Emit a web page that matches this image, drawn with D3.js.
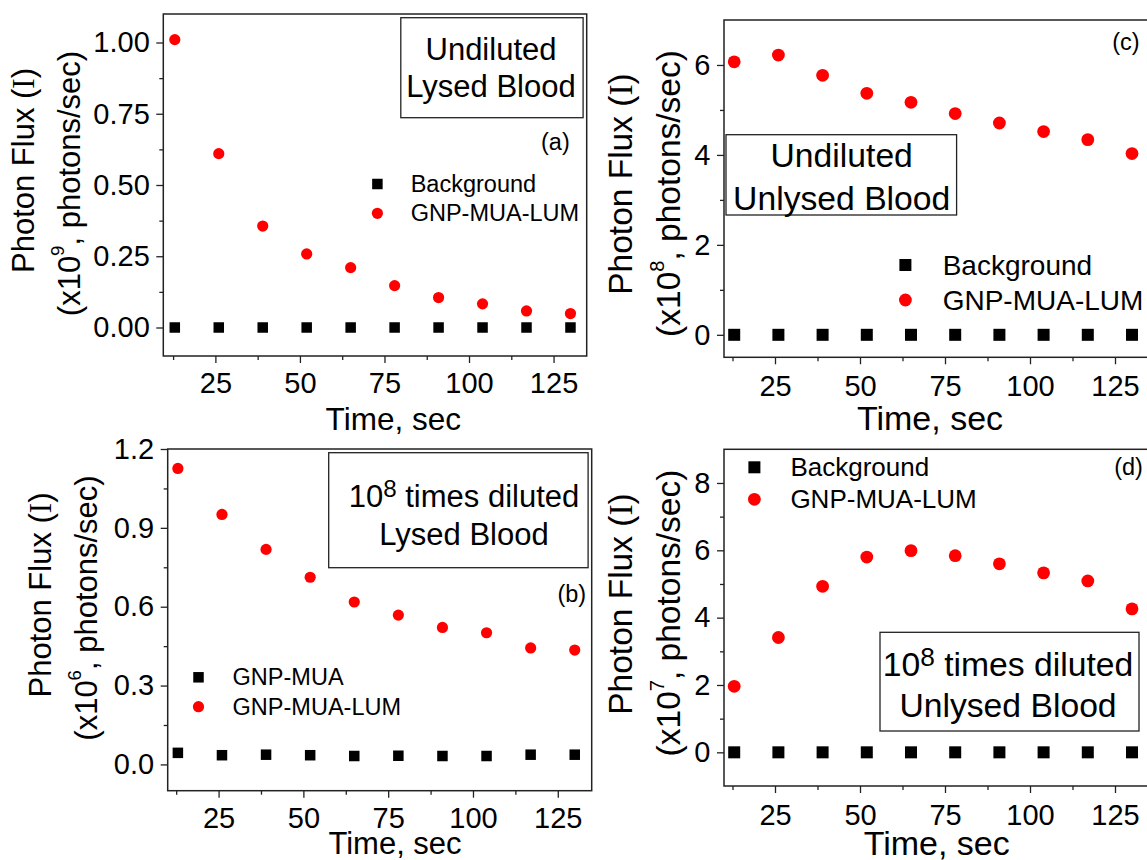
<!DOCTYPE html>
<html>
<head>
<meta charset="utf-8">
<script src="https://cdn.jsdelivr.net/npm/d3@7"></script>
<style>
  body { margin: 0; background: #fff; }
  svg text { font-family: "Liberation Sans", Arial, sans-serif; fill: #000; }
</style>
</head>
<body>
<svg id="chart" width="1147" height="860"></svg>
<script>
// shared x data (sampling time, sec)
const timeSec = [13, 26, 39, 52, 65, 78, 91, 104, 117, 130];
const xTickValues = [25, 50, 75, 100, 125];
const xMinorValues = [12.5, 37.5, 62.5, 87.5, 112.5];

// (a) undiluted lysed blood, x10^9
const aBackground = [0, 0, 0, 0, 0, 0, 0, 0, 0, 0];
const aLum = [1.01, 0.61, 0.356, 0.258, 0.21, 0.147, 0.105, 0.083, 0.058, 0.049];
const aYTicks = [0, 0.25, 0.5, 0.75, 1.0];
const aYMinor = [0.125, 0.375, 0.625, 0.875];

// (b) 10^8 diluted lysed blood, x10^6
const bGnpMua = [0.044, 0.035, 0.037, 0.035, 0.032, 0.033, 0.032, 0.032, 0.037, 0.037];
const bLum = [1.126, 0.951, 0.818, 0.712, 0.618, 0.568, 0.521, 0.501, 0.443, 0.435];
const bYTicks = [0, 0.3, 0.6, 0.9, 1.2];
const bYMinor = [0.15, 0.45, 0.75, 1.05];

// (c) undiluted unlysed blood, x10^8
const cBackground = [0, 0, 0, 0, 0, 0, 0, 0, 0, 0];
const cLum = [6.07, 6.22, 5.77, 5.37, 5.17, 4.92, 4.71, 4.52, 4.34, 4.03];
const cYTicks = [0, 2, 4, 6];
const cYMinor = [1, 3, 5];

// (d) 10^8 diluted unlysed blood, x10^7
const dBackground = [0, 0, 0, 0, 0, 0, 0, 0, 0, 0];
const dLum = [1.96, 3.41, 4.93, 5.80, 5.99, 5.84, 5.60, 5.33, 5.09, 4.26];
const dYTicks = [0, 2, 4, 6, 8];
const dYMinor = [1, 3, 5, 7];

const FONT = '"Liberation Sans", Arial, sans-serif';
const svg = d3.select('#chart');

// one panel = frame + axes + two series + legend + note box
function drawPanel(p) {
  const g = svg.append('g');
  const x = d3.scaleLinear().domain(p.xDomain).range([p.left, p.right]);
  const y = d3.scaleLinear().domain(p.yDomain).range([p.bottom, p.top]);

  // minor ticks
  g.append('g')
    .attr('transform', `translate(0,${p.bottom})`)
    .call(d3.axisBottom(x).tickValues(xMinorValues).tickSize(4).tickFormat(''))
    .call(a => a.select('.domain').remove());
  g.append('g')
    .attr('transform', `translate(${p.left},0)`)
    .call(d3.axisLeft(y).tickValues(p.yMinor).tickSize(4).tickFormat(''))
    .call(a => a.select('.domain').remove());

  // major ticks + labels
  const xa = g.append('g')
    .attr('transform', `translate(0,${p.bottom})`)
    .call(d3.axisBottom(x).tickValues(xTickValues).tickSize(7)
      .tickPadding(p.xPad).tickFormat(d3.format('d')));
  const ya = g.append('g')
    .attr('transform', `translate(${p.left},0)`)
    .call(d3.axisLeft(y).tickValues(p.yTicks).tickSize(7)
      .tickPadding(6.5).tickFormat(d3.format(p.yFormat)));
  [xa, ya].forEach(a => {
    a.select('.domain').remove();
    a.attr('font-family', FONT).attr('font-size', p.tickFont);
  });
  g.selectAll('.tick line').attr('stroke', '#222').attr('stroke-width', 1.3);

  // frame
  g.append('rect')
    .attr('x', p.left).attr('y', p.top)
    .attr('width', p.right - p.left).attr('height', p.bottom - p.top)
    .attr('fill', 'none').attr('stroke', '#222').attr('stroke-width', 1.5);

  // black squares
  g.selectAll('rect.sq').data(p.black).enter().append('rect')
    .attr('class', 'sq')
    .attr('x', (d, i) => x(timeSec[i]) - p.sq / 2)
    .attr('y', d => y(d) - p.sq / 2)
    .attr('width', p.sq).attr('height', p.sq)
    .attr('fill', '#000');

  // red circles
  g.selectAll('circle.dot').data(p.red).enter().append('circle')
    .attr('class', 'dot')
    .attr('cx', (d, i) => x(timeSec[i]))
    .attr('cy', d => y(d))
    .attr('r', p.r)
    .attr('fill', '#ff0000');

  // legend
  const lg = p.legend;
  g.append('rect')
    .attr('x', lg.mx - p.sq / 2).attr('y', lg.y1 - p.sq / 2)
    .attr('width', p.sq).attr('height', p.sq).attr('fill', '#000');
  g.append('circle').attr('cx', lg.mx).attr('cy', lg.y2).attr('r', p.r).attr('fill', '#ff0000');
  [[lg.y1, lg.label1], [lg.y2, 'GNP-MUA-LUM']].forEach(([ly, t]) => {
    g.append('text').attr('x', lg.tx).attr('y', ly)
      .attr('dominant-baseline', 'central')
      .attr('font-size', lg.font).text(t);
  });

  // note box
  const b = p.box;
  g.append('rect')
    .attr('x', b.x0).attr('y', b.y0)
    .attr('width', b.x1 - b.x0).attr('height', b.y1 - b.y0)
    .attr('fill', 'none').attr('stroke', '#222').attr('stroke-width', 1.3);
  const l1 = g.append('text').attr('x', b.cx).attr('y', b.base1)
    .attr('text-anchor', 'middle').attr('font-size', b.font);
  if (b.diluted) {
    l1.append('tspan').text('10');
    l1.append('tspan').attr('font-size', b.font * 0.78).attr('dy', -10.5).text('8');
    l1.append('tspan').attr('dy', 10.5).text(' times diluted');
  } else {
    l1.text('Undiluted');
  }
  g.append('text').attr('x', b.cx).attr('y', b.base2)
    .attr('text-anchor', 'middle').attr('font-size', b.font).text(b.line2);

  // panel letter
  g.append('text').attr('x', p.tag[0]).attr('y', p.tag[1])
    .attr('text-anchor', 'middle').attr('dominant-baseline', 'central')
    .attr('font-size', 23.5).text(p.tag[2]);

  // x title
  g.append('text').attr('x', p.xTitle[0]).attr('y', p.xTitle[1])
    .attr('text-anchor', 'middle').attr('font-size', p.titleFont)
    .text('Time, sec');

  // y title, two rotated lines
  const t1 = g.append('text')
    .attr('transform', `translate(${p.yTitle1[0]},${p.yTitle1[1]}) rotate(-90)`)
    .attr('text-anchor', 'middle').attr('font-size', p.yTitleFont);
  t1.append('tspan').text('Photon Flux (');
  t1.append('tspan').style('font-family', '"Liberation Serif", "Times New Roman", serif').text('I');
  t1.append('tspan').text(')');
  const t2 = g.append('text')
    .attr('transform', `translate(${p.yTitle2[0]},${p.yTitle2[1]}) rotate(-90)`)
    .attr('text-anchor', 'middle').attr('font-size', p.yTitleFont);
  t2.append('tspan').text('(x10');
  t2.append('tspan').attr('font-size', p.yTitleFont * 0.6).attr('dy', -16).text(p.power);
  t2.append('tspan').attr('dy', 16).text(', photons/sec)');
}

const panels = [
  { // (a)
    left: 163.3, right: 586.7, top: 14, bottom: 356,
    xDomain: [9.6, 134.8], yDomain: [-0.1, 1.1],
    yTicks: aYTicks, yMinor: aYMinor, yFormat: '.2f',
    black: aBackground, red: aLum, sq: 10.5, r: 5.6,
    tickFont: 29, xPad: 9.5, titleFont: 31.5, yTitleFont: 31,
    legend: { mx: 377.4, tx: 410.7, y1: 184, y2: 213.3, font: 23.5, label1: 'Background' },
    box: { x0: 400.8, x1: 583.1, y0: 17.7, y1: 117.7, cx: 491, base1: 60, base2: 97.3,
           font: 31, diluted: false, line2: 'Lysed Blood' },
    tag: [555.4, 141.7, '(a)'], xTitle: [393.3, 430],
    yTitle1: [33.5, 170.5], yTitle2: [80, 183.5], power: '9'
  },
  { // (b)
    left: 167.7, right: 591.7, top: 449, bottom: 790.7,
    xDomain: [10, 135], yDomain: [-0.1, 1.2],
    yTicks: bYTicks, yMinor: bYMinor, yFormat: '.1f',
    black: bGnpMua, red: bLum, sq: 10.5, r: 5.6,
    tickFont: 29, xPad: 9.5, titleFont: 31, yTitleFont: 31,
    legend: { mx: 198.5, tx: 232.6, y1: 677.3, y2: 706.7, font: 23.5, label1: 'GNP-MUA' },
    box: { x0: 328.7, x1: 588.1, y0: 452.7, y1: 567.7, cx: 464, base1: 507.3, base2: 545,
           font: 31, diluted: true, line2: 'Lysed Blood' },
    tag: [571.8, 594.3, '(b)'], xTitle: [395, 854],
    yTitle1: [50.5, 595], yTitle2: [97, 608], power: '6'
  },
  { // (c)
    left: 724, right: 1149, top: 20, bottom: 357.3,
    xDomain: [10, 135], yDomain: [-0.5, 7],
    yTicks: cYTicks, yMinor: cYMinor, yFormat: 'd',
    black: cBackground, red: cLum, sq: 12, r: 6.4,
    tickFont: 29, xPad: 11, titleFont: 34, yTitleFont: 33.5,
    legend: { mx: 905.4, tx: 942.7, y1: 265, y2: 300, font: 28, label1: 'Background' },
    box: { x0: 726, x1: 956.6, y0: 134.7, y1: 215, cx: 841.7, base1: 166.7, base2: 209.5,
           font: 33.7, diluted: false, line2: 'Unlysed Blood' },
    tag: [1126, 41.7, '(c)'], xTitle: [930, 430],
    yTitle1: [631.7, 184], yTitle2: [680, 193.5], power: '8'
  },
  { // (d)
    left: 724, right: 1149, top: 449.3, bottom: 786,
    xDomain: [10, 135], yDomain: [-1, 9],
    yTicks: dYTicks, yMinor: dYMinor, yFormat: 'd',
    black: dBackground, red: dLum, sq: 12, r: 6.4,
    tickFont: 29, xPad: 11, titleFont: 34, yTitleFont: 33.5,
    legend: { mx: 754.4, tx: 790.4, y1: 467.3, y2: 499.3, font: 26, label1: 'Background' },
    box: { x0: 880, x1: 1139, y0: 632.3, y1: 731, cx: 1008, base1: 676, base2: 717.3,
           font: 33.7, diluted: true, line2: 'Unlysed Blood' },
    tag: [1128.6, 467.3, '(d)'], xTitle: [936.7, 855],
    yTitle1: [631.7, 604], yTitle2: [680, 613], power: '7'
  }
];

panels.forEach(drawPanel);
</script>
</body>
</html>
